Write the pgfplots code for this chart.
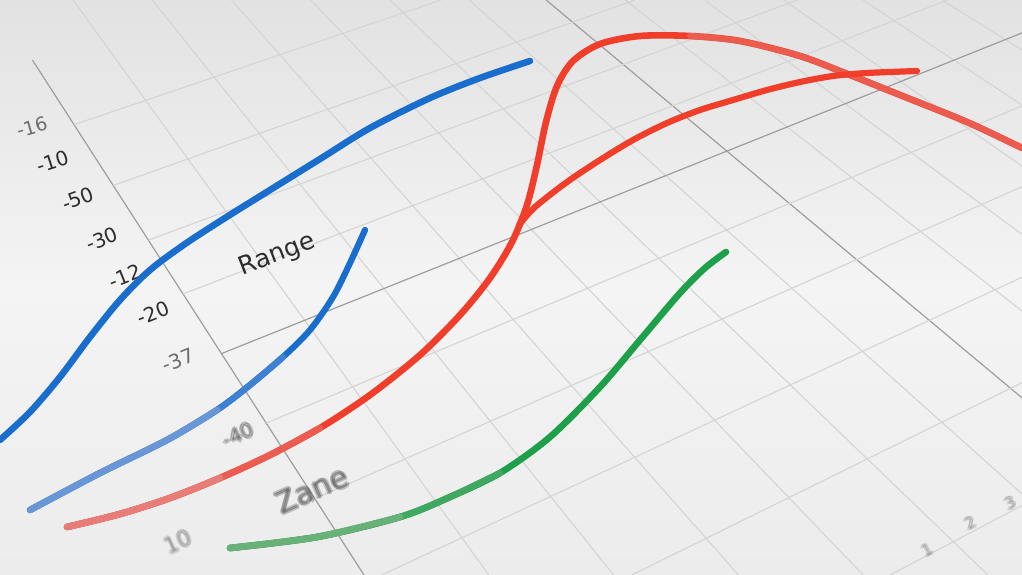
\documentclass[border=0pt]{standalone}
\usepackage{pgfplots}
\pgfplotsset{compat=1.18}
\usepackage{fontspec}
\setmainfont{DejaVu Sans}
\definecolor{bgtop}{RGB}{226,226,226}
\definecolor{bgmid}{RGB}{244,244,244}
\definecolor{bgbot}{RGB}{236,236,236}
\definecolor{gridc}{RGB}{212,212,212}
\definecolor{gridd}{RGB}{158,158,158}
\definecolor{bluemain}{RGB}{25,110,205}
\definecolor{bluemid}{RGB}{62,128,210}
\definecolor{bluelight}{RGB}{105,150,214}
\definecolor{redmain}{RGB}{240,62,42}
\definecolor{redmid}{RGB}{236,92,80}
\definecolor{redlight}{RGB}{232,125,120}
\definecolor{redfar}{RGB}{236,92,78}
\definecolor{greenmain}{RGB}{30,160,75}
\definecolor{greenmid}{RGB}{64,168,96}
\definecolor{greenlight}{RGB}{104,178,122}
\definecolor{txt}{RGB}{45,45,45}
\definecolor{txtsoft}{RGB}{110,110,110}
\pgfplotsset{
  gA/.style={draw=gridc, line width=1.1pt, forget plot, no marks, sharp plot},
  gD/.style={draw=gridd, line width=1.2pt, forget plot, no marks, sharp plot},
  crv/.style={line width=6.6pt, line cap=round, no marks, smooth, forget plot},
}
\newcommand{\snode}[6]{%
  \node[rotate=#3,text=#5] at (axis cs:#1,#2) {\fontsize{#4}{#4}\selectfont #6};
}
\newcommand{\bnode}[6]{%
  \node[rotate=#3,text=#5,opacity=0.25,xshift=1.5pt] at (axis cs:#1,#2) {\fontsize{#4}{#4}\selectfont #6};
  \node[rotate=#3,text=#5,opacity=0.25,xshift=-1.5pt] at (axis cs:#1,#2) {\fontsize{#4}{#4}\selectfont #6};
  \node[rotate=#3,text=#5,opacity=0.25,yshift=1.5pt] at (axis cs:#1,#2) {\fontsize{#4}{#4}\selectfont #6};
  \node[rotate=#3,text=#5,opacity=0.25,yshift=-1.5pt] at (axis cs:#1,#2) {\fontsize{#4}{#4}\selectfont #6};
}
\begin{document}
\begin{tikzpicture}
\begin{axis}[
  scale only axis, width=1022pt, height=575pt,
  xmin=0, xmax=1022, ymin=0, ymax=575, y dir=reverse,
  hide axis, clip=true,
]
\fill[top color=bgtop, bottom color=bgbot, middle color=bgmid] (rel axis cs:0,0) rectangle (rel axis cs:1,1);
% grid: lines of one direction
\addplot[gD] coordinates {(32.4,60) (364.0,575)};
\addplot[gA] coordinates {(73.1,0) (488.8,575)};
\addplot[gA] coordinates {(152.3,0) (613.6,575)};
\addplot[gA] coordinates {(231.5,0) (738.4,575)};
\addplot[gA] coordinates {(310.7,0) (863.2,575)};
\addplot[gA] coordinates {(390.0,0) (988.0,575)};
\addplot[gA] coordinates {(469.2,0) (1112.8,575)};
\addplot[gD] coordinates {(546.1,0) (1233.9,575)};
\addplot[gA] coordinates {(625.3,0) (1358.7,575)};
\addplot[gA] coordinates {(704.6,0) (1483.5,575)};
\addplot[gA] coordinates {(783.8,0) (1608.2,575)};
\addplot[gA] coordinates {(863.0,0) (1733.0,575)};
\addplot[gA] coordinates {(942.2,0) (1857.8,575)};
% grid: lines of the other direction
\addplot[gA] coordinates {(74.1,124.7) (441,0)};
\addplot[gA] coordinates {(113.2,185.5) (635,0)};
\addplot[gA] coordinates {(148.4,240.1) (797.5,0)};
\addplot[gA] coordinates {(183,294) (947.7,0)};
\addplot[gD] coordinates {(221.5,353.6) (1022,32.9)};
\addplot[gA] coordinates {(266.2,423.1) (1022,105.9)};
\addplot[gA] coordinates {(314.9,498.7) (1022,186.7)};
\addplot[gA] coordinates {(381.7,575) (1022,277.2)};
\addplot[gA] coordinates {(631.8,575) (1022,382.7)};
\addplot[gA] coordinates {(890,575) (1022,505.6)};
% labels
\snode{32}{127}{16}{19}{txtsoft}{-16}
\snode{53}{162}{18}{20}{txt}{-10}
\snode{78}{199}{20}{20}{txt}{-50}
\snode{102}{239}{21}{20}{txt}{-30}
\snode{125}{276}{22}{20}{txt}{-12}
\snode{153}{313}{22}{20}{txt}{-20}
\snode{178}{360}{22}{20}{txtsoft}{-37}
\bnode{238}{435}{24}{20}{txt}{-40}
\bnode{178}{542}{24}{22}{txtsoft}{10}
\snode{277}{255}{21}{25}{txt}{Range}
\bnode{312}{490}{24}{30}{txt}{Zane}
\bnode{927}{550}{28}{16}{txtsoft}{1}
\bnode{970}{523}{28}{16}{txtsoft}{2}
\bnode{1010}{503}{28}{16}{txtsoft}{3}
% curves
\addplot[crv, draw=bluemain] coordinates {(0,440) (30,412) (60,377) (90,337) (120,300) (150,270) (185,244) (225,218) (270,190) (320,159) (370,128) (430,98) (480,78) (530,61)};
\addplot[crv, draw=bluemain, line width=6.2pt] coordinates {(30,510) (100,473) (167,440) (217,410) (250,385) (283,357) (310,330) (333,297) (350,263) (365,230)};
\addplot[crv, draw=bluemid, line width=6.4pt] coordinates {(30,510) (100,473) (167,440) (217,410) (250,385) (283,357)};
\addplot[crv, draw=bluelight, line width=6.6pt] coordinates {(30,510) (100,473) (167,440) (217,410)};
\addplot[crv, draw=redmain] coordinates {(67,527) (120,514) (170,498) (220,478) (270,455) (320,428) (370,395) (420,355) (460,315) (490,278) (512,242) (527,205) (537,165) (546,122) (557,86) (573,61) (600,44) (640,36) (690,36) (740,41) (800,56) (850,75) (900,95) (967,122) (1022,148)};
\addplot[crv, draw=redmid] coordinates {(67,527) (120,514) (170,498) (220,478) (270,455) (320,428)};
\addplot[crv, draw=redlight] coordinates {(67,527) (120,514) (170,498) (220,478)};
\addplot[crv, draw=redfar, line width=6pt] coordinates {(690,36) (740,41) (800,56) (850,75) (900,95) (967,122) (1022,148)};
\addplot[crv, draw=redmain, line width=6.2pt] coordinates {(519,225) (535,207) (567,182) (600,160) (633,140) (667,123) (700,110) (733,100) (767,90) (800,82) (833,76) (867,73) (917,71)};
\addplot[crv, draw=greenmain] coordinates {(230,548) (317,537) (400,517) (450,497) (500,473) (550,437) (600,387) (640,340) (680,293) (705,268) (726,252)};
\addplot[crv, draw=greenmid] coordinates {(230,548) (317,537) (400,517) (450,497) (500,473)};
\addplot[crv, draw=greenlight] coordinates {(230,548) (317,537) (400,517)};
\end{axis}
\end{tikzpicture}
\end{document}
